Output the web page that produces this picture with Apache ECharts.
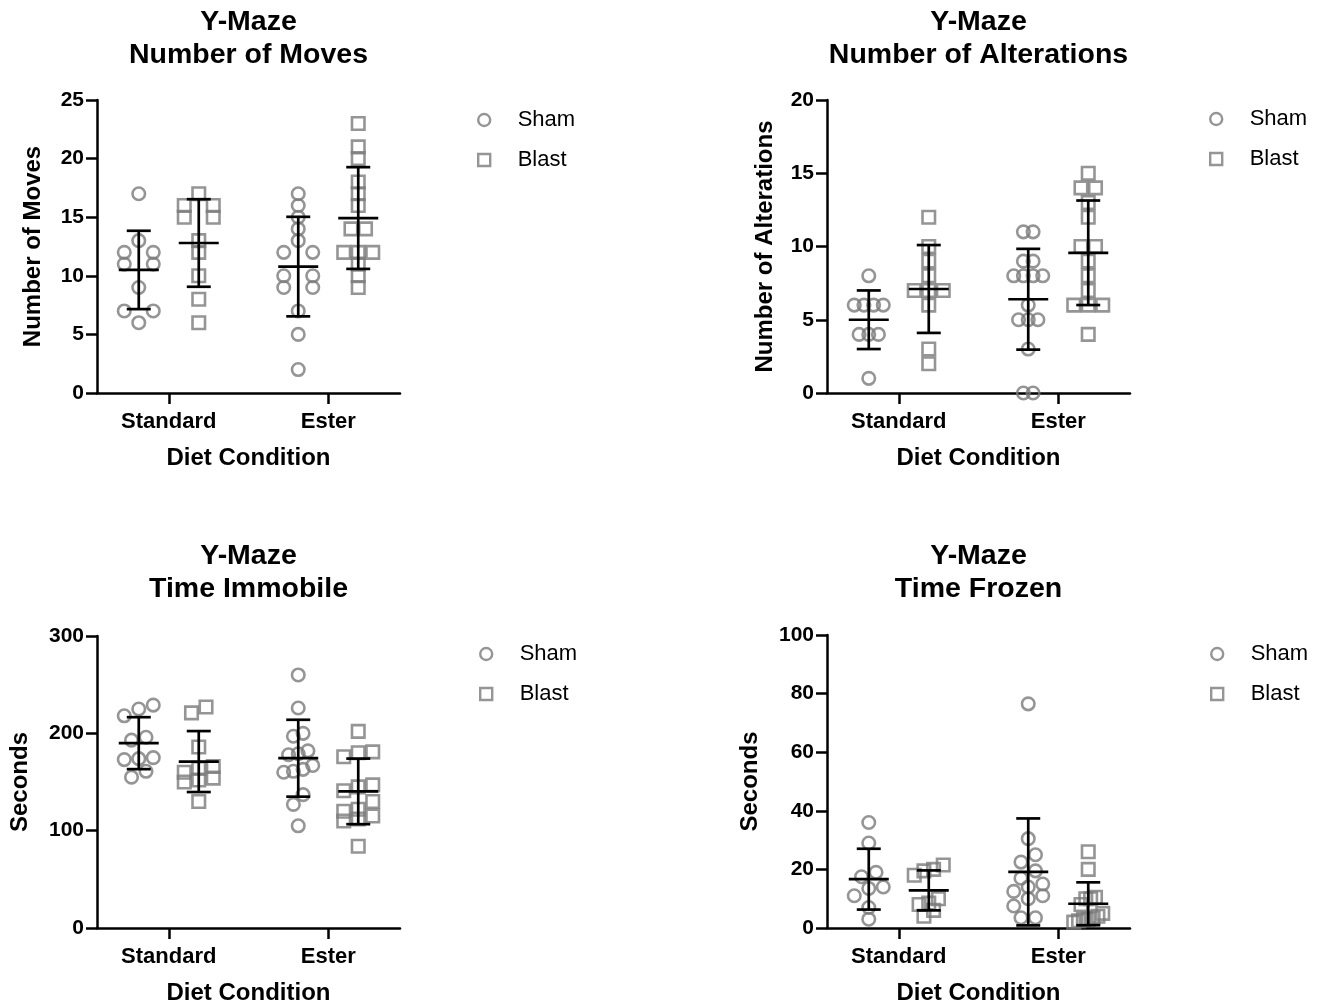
<!DOCTYPE html>
<html>
<head>
<meta charset="utf-8">
<script src="https://cdn.jsdelivr.net/npm/echarts@6/dist/echarts.min.js"></script>
<style>
html,body{margin:0;padding:0;background:#fff;}
#chart{width:1323px;height:1008px;}
</style>
</head>
<body>
<div id="chart"></div>
<script>
// ---------------- data ----------------
const dietCategories = ['Standard', 'Ester'];
const groupNames = ['Sham', 'Blast'];
const panelTitles = ['Y-Maze\nNumber of Moves', 'Y-Maze\nNumber of Alterations', 'Y-Maze\nTime Immobile', 'Y-Maze\nTime Frozen'];
const yAxisNames = ['Number of Moves', 'Number of Alterations', 'Seconds', 'Seconds'];
const xAxisName = 'Diet Condition';
const yAxisMax = [25, 20, 300, 100];
const yAxisInterval = [5, 5, 100, 20];

// Number of Moves
const movesShamStandard = [17, 13, 12, 12, 11, 11, 9, 7, 7, 6];
const movesBlastStandard = [17, 16, 16, 15, 15, 13, 12, 10, 8, 6];
const movesShamEster = [17, 16, 15, 14, 13, 12, 12, 10, 10, 9, 9, 7, 5, 2];
const movesBlastEster = [23, 21, 20, 18, 17, 16, 14, 14, 12, 12, 12, 11, 10, 9];

// Number of Alterations
const altShamStandard = [8, 6, 6, 6, 6, 4, 4, 4, 1];
const altBlastStandard = [12, 10, 9, 8, 7, 7, 7, 6, 3, 2];
const altShamEster = [11, 11, 9, 9, 8, 8, 8, 8, 6, 5, 5, 5, 3, 0, 0];
const altBlastEster = [15, 14, 14, 13, 12, 10, 10, 9, 8, 7, 6, 6, 6, 4];

// Time Immobile (s)
const immShamStandard = [229, 225, 218, 196, 193, 175, 174, 173, 161, 155];
const immBlastStandard = [227, 221, 186, 166, 164, 160, 154, 152, 150, 130];
const immShamEster = [260, 226, 200, 197, 182, 179, 178, 167, 163, 161, 160, 137, 127, 105];
const immBlastEster = [202, 181, 180, 176, 147, 145, 141, 130, 122, 120, 115, 112, 110, 84];

// Time Frozen (s)
const frzShamStandard = [36, 29, 19, 17.5, 14, 13.5, 11, 7, 3];
const frzBlastStandard = [21.5, 20, 19.5, 18, 10, 8.5, 8, 6, 4];
const frzShamEster = [76.5, 30.5, 25, 22.5, 19.5, 17, 15, 14, 12.5, 11, 10, 7.5, 3.5, 3.5];
const frzBlastEster = [26, 20, 10.5, 10, 10, 8, 5, 4, 3.5, 3, 3, 2.5, 2];

// ---------------- layout / style ----------------
const FONT = "'Liberation Sans', Arial, Helvetica, sans-serif";
const GRAY = '#7a7a7a';
const X_MIN = -0.45, X_MAX = 1.45;
const GROUP_OFFSET_PX = 30;
const SPREAD_PX = 29;
const ROW_PX = 11;
const MEAN_HALF = 20, CAP_HALF = 12;

const panels = [
  { sham: [movesShamStandard, movesShamEster], blast: [movesBlastStandard, movesBlastEster],
    grid: { left: 97, top: 100, width: 303, height: 293 }, nameGap: 52, legend: { cx: 483, top: 108 }, titleTop: 6 },
  { sham: [altShamStandard, altShamEster], blast: [altBlastStandard, altBlastEster],
    grid: { left: 827, top: 100, width: 303, height: 293 }, nameGap: 50, legend: { cx: 1215, top: 107 }, titleTop: 6 },
  { sham: [immShamStandard, immShamEster], blast: [immBlastStandard, immBlastEster],
    grid: { left: 97, top: 636, width: 303, height: 292 }, nameGap: 65, legend: { cx: 485, top: 642 }, titleTop: 540 },
  { sham: [frzShamStandard, frzShamEster], blast: [frzBlastStandard, frzBlastEster],
    grid: { left: 827, top: 635, width: 303, height: 293 }, nameGap: 65, legend: { cx: 1216, top: 642 }, titleTop: 540 }
];

function swarm(values, pxPerUnit) {
  const sorted = values.slice().sort((a, b) => b - a);
  const rows = [];
  let cur = null;
  sorted.forEach(v => {
    if (cur && (cur.start - v) * pxPerUnit < ROW_PX) cur.vals.push(v);
    else { cur = { start: v, vals: [v] }; rows.push(cur); }
  });
  const maxN = Math.max.apply(null, rows.map(r => r.vals.length));
  const step = maxN > 1 ? SPREAD_PX / (maxN - 1) : 0;
  const out = [];
  rows.forEach(r => {
    const n = r.vals.length;
    r.vals.slice().reverse().forEach((v, i) => out.push([(i - (n - 1) / 2) * step, v]));
  });
  return out;
}
function mean(a) { return a.reduce((s, v) => s + v, 0) / a.length; }
function sd(a) { const m = mean(a); return Math.sqrt(a.reduce((s, v) => s + (v - m) * (v - m), 0) / (a.length - 1)); }

const option = {
  backgroundColor: '#fff',
  animation: false,
  title: [], legend: [], grid: [], xAxis: [], yAxis: [], series: []
};

const LEG_ICON = 12;
panels.forEach((p, pi) => {
  const g = p.grid;
  const pxPerX = g.width / (X_MAX - X_MIN);
  const pxPerY = g.height / yAxisMax[pi];
  option.grid.push(Object.assign({ containLabel: false }, g));
  option.title.push({
    text: panelTitles[pi], left: g.left + g.width / 2, top: p.titleTop, textAlign: 'center', padding: 0,
    textStyle: { fontFamily: FONT, fontSize: 28.5, fontWeight: 'bold', color: '#000', lineHeight: 32.5 }
  });
  option.legend.push({
    orient: 'vertical', left: p.legend.cx - LEG_ICON / 2, top: p.legend.top, padding: 0,
    itemWidth: LEG_ICON, itemHeight: LEG_ICON, itemGap: 16, selectedMode: false,
    textStyle: { fontFamily: FONT, fontSize: 22, color: '#000', lineHeight: 24, padding: [0, 0, 0, 22.5] },
    itemStyle: { color: 'rgba(0,0,0,0)', borderColor: GRAY, borderWidth: 2.4 },
    data: [{ name: groupNames[0], icon: 'circle' }, { name: groupNames[1], icon: 'rect' }]
  });
  option.xAxis.push({
    type: 'value', gridIndex: pi, min: X_MIN, max: X_MAX,
    name: xAxisName, nameLocation: 'middle', nameGap: 53,
    nameTextStyle: { fontFamily: FONT, fontSize: 24, fontWeight: 'bold', color: '#000' },
    axisLine: { show: true, onZero: false, lineStyle: { color: '#000', width: 2.5 } },
    axisTick: { show: true, customValues: [0, 1], length: 11, lineStyle: { color: '#000', width: 2.5 } },
    axisLabel: { show: true, customValues: [0, 1], margin: 18, formatter: v => dietCategories[Math.round(v)],
      fontFamily: FONT, fontSize: 22, fontWeight: 'bold', color: '#000' },
    splitLine: { show: false }
  });
  option.yAxis.push({
    type: 'value', gridIndex: pi, min: 0, max: yAxisMax[pi], interval: yAxisInterval[pi],
    name: yAxisNames[pi], nameLocation: 'middle', nameGap: p.nameGap, nameRotate: 90,
    nameTextStyle: { fontFamily: FONT, fontSize: 24, fontWeight: 'bold', color: '#000' },
    axisLine: { show: true, onZero: false, lineStyle: { color: '#000', width: 2.5 } },
    axisTick: { show: true, length: 11, lineStyle: { color: '#000', width: 2.5 } },
    axisLabel: { margin: 13, fontFamily: FONT, fontSize: 21, fontWeight: 'bold', color: '#000' },
    splitLine: { show: false }
  });

  const errData = [];
  [p.sham, p.blast].forEach((sets, si) => {
    const sign = si === 0 ? -1 : 1;
    const pts = [];
    sets.forEach((vals, gi) => {
      swarm(vals, pxPerY).forEach(([off, v]) => {
        pts.push([gi + (sign * GROUP_OFFSET_PX + off) / pxPerX, v]);
      });
      errData.push([gi + sign * GROUP_OFFSET_PX / pxPerX, mean(vals), sd(vals)]);
    });
    option.series.push({
      type: 'scatter', name: groupNames[si], xAxisIndex: pi, yAxisIndex: pi,
      symbol: si === 0 ? 'circle' : 'rect', symbolSize: 12.5,
      itemStyle: { color: 'rgba(0,0,0,0)', borderColor: GRAY, borderWidth: 2.6 },
      emphasis: { disabled: true }, silent: true, z: 2,
      data: pts
    });
  });
  option.series.push({
    type: 'custom', name: 'SD', xAxisIndex: pi, yAxisIndex: pi, z: 5, silent: true,
    encode: { x: 0, y: 1 },
    renderItem: function (params, api) {
      const x = api.value(0), m = api.value(1), s = api.value(2);
      const pm = api.coord([x, m]);
      const pt = api.coord([x, m + s]);
      const pb = api.coord([x, m - s]);
      const st = { stroke: '#000', lineWidth: 2.7 };
      return { type: 'group', children: [
        { type: 'line', shape: { x1: pm[0], y1: pt[1], x2: pm[0], y2: pb[1] }, style: st },
        { type: 'line', shape: { x1: pm[0] - MEAN_HALF, y1: pm[1], x2: pm[0] + MEAN_HALF, y2: pm[1] }, style: st },
        { type: 'line', shape: { x1: pm[0] - CAP_HALF, y1: pt[1], x2: pm[0] + CAP_HALF, y2: pt[1] }, style: st },
        { type: 'line', shape: { x1: pm[0] - CAP_HALF, y1: pb[1], x2: pm[0] + CAP_HALF, y2: pb[1] }, style: st }
      ] };
    },
    data: errData
  });
});

const chart = echarts.init(document.getElementById('chart'), null, { renderer: 'canvas' });
chart.setOption(option);
</script>
</body>
</html>
